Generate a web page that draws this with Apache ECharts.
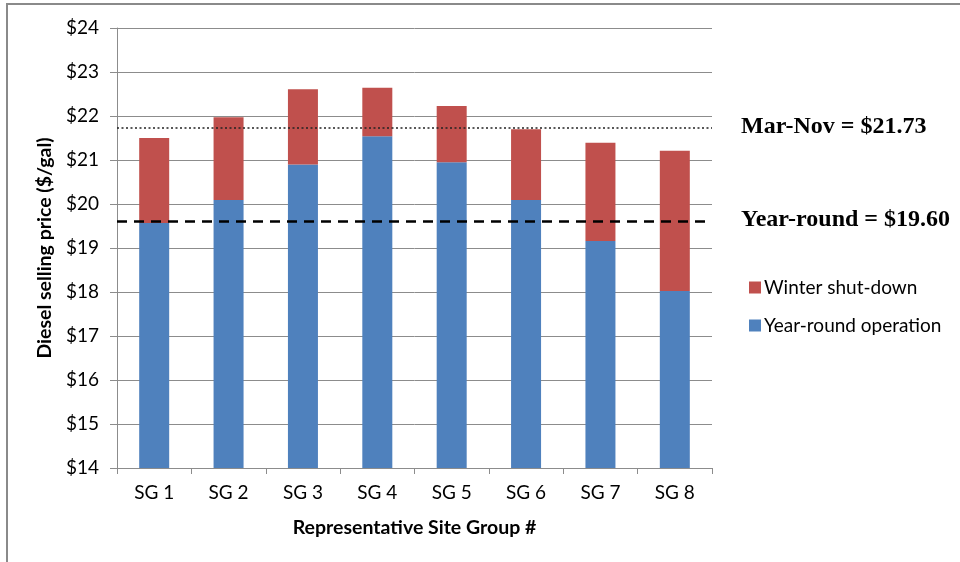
<!DOCTYPE html>
<html>
<head>
<meta charset="utf-8">
<script src="https://cdn.jsdelivr.net/npm/echarts@6/dist/echarts.min.js"></script>
<style>
  html, body { margin: 0; padding: 0; background: #fff; }
  #chart { width: 960px; height: 562px; }
</style>
</head>
<body>
<div id="chart"></div>
<script>
// Diesel selling price by representative site group ($/gal)
const siteGroups = ['SG 1', 'SG 2', 'SG 3', 'SG 4', 'SG 5', 'SG 6', 'SG 7', 'SG 8'];
const yearRoundPrice = [19.57, 20.09, 20.90, 21.54, 20.95, 20.09, 19.16, 18.02];
const winterShutdownPrice = [21.50, 21.97, 22.61, 22.64, 22.23, 21.70, 21.39, 21.21];
const yearRoundAverage = 19.60;
const marNovAverage = 21.73;
const yTickValues = [14, 15, 16, 17, 18, 19, 20, 21, 22, 23, 24];

// Extra cost of a winter shut-down, stacked on top of the year-round price
const winterExtra = winterShutdownPrice.map((v, i) => +(v - yearRoundPrice[i]).toFixed(2));

const labelFont = 'Lato, "Open Sans", sans-serif';
const gridGray = '#8c8c8c';

const chart = echarts.init(document.getElementById('chart'), null, { renderer: 'canvas' });

chart.setOption({
  animation: false,
  backgroundColor: '#ffffff',
  grid: { left: 117, right: 248, top: 28, bottom: 94, containLabel: false },
  legend: {
    orient: 'vertical',
    left: 744,
    top: 273,
    itemWidth: 12,
    itemHeight: 12,
    itemGap: 19,
    icon: 'rect',
    data: ['Winter shut-down', 'Year-round operation'],
    textStyle: { fontFamily: labelFont, fontSize: 19, color: '#000', padding: [0, 0, 0, -2] }
  },
  xAxis: {
    type: 'category',
    data: siteGroups,
    name: 'Representative Site Group #',
    nameLocation: 'middle',
    nameGap: 50,
    nameTextStyle: { fontFamily: labelFont, fontSize: 19.5, fontWeight: 'bold', color: '#000' },
    axisLine: { lineStyle: { color: gridGray, width: 1 } },
    axisTick: { show: true, length: 6, lineStyle: { color: gridGray } },
    axisLabel: { fontFamily: labelFont, fontSize: 19, color: '#000', margin: 15 }
  },
  yAxis: {
    type: 'value',
    min: yTickValues[0],
    max: yTickValues[yTickValues.length - 1],
    interval: 1,
    name: 'Diesel selling price ($/gal)',
    nameLocation: 'middle',
    nameRotate: 90,
    nameGap: 58,
    nameTextStyle: { fontFamily: labelFont, fontSize: 19.5, fontWeight: 'bold', color: '#000' },
    axisLine: { show: true, lineStyle: { color: gridGray, width: 1 } },
    axisTick: { show: true, length: 7, lineStyle: { color: gridGray } },
    axisLabel: { fontFamily: labelFont, fontSize: 19, color: '#000', margin: 18, formatter: v => '$' + v },
    splitLine: { show: true, lineStyle: { color: gridGray, width: 1 } }
  },
  series: [
    {
      name: 'Year-round operation',
      type: 'bar',
      stack: 'price',
      barWidth: 30,
      itemStyle: { color: '#4F81BD' },
      data: yearRoundPrice,
      z: 2
    },
    {
      name: 'Winter shut-down',
      type: 'bar',
      stack: 'price',
      barWidth: 30,
      itemStyle: { color: '#C0504D' },
      data: winterExtra,
      z: 2,
      markLine: {
        silent: true,
        symbol: ['none', 'none'],
        label: { show: false },
        z: 5,
        data: [
          { yAxis: marNovAverage, lineStyle: { color: '#222', type: [2, 2.5], width: 1.5 } },
          { yAxis: yearRoundAverage, lineStyle: { color: '#000', type: [10, 7], width: 2.5 } }
        ]
      }
    }
  ],
  graphic: [
    {
      type: 'rect',
      shape: { x: 7, y: 4, width: 980, height: 600 },
      style: { fill: 'none', stroke: '#8a8a8a', lineWidth: 2 },
      silent: true
    },
    {
      type: 'text',
      left: 741,
      top: 115,
      style: {
        text: 'Mar-Nov = $' + marNovAverage.toFixed(2),
        font: 'bold 24px "Liberation Serif", "Times New Roman", serif',
        fill: '#000'
      }
    },
    {
      type: 'text',
      left: 741,
      top: 208,
      style: {
        text: 'Year-round = $' + yearRoundAverage.toFixed(2),
        font: 'bold 24px "Liberation Serif", "Times New Roman", serif',
        fill: '#000'
      }
    }
  ]
});
</script>
</body>
</html>
